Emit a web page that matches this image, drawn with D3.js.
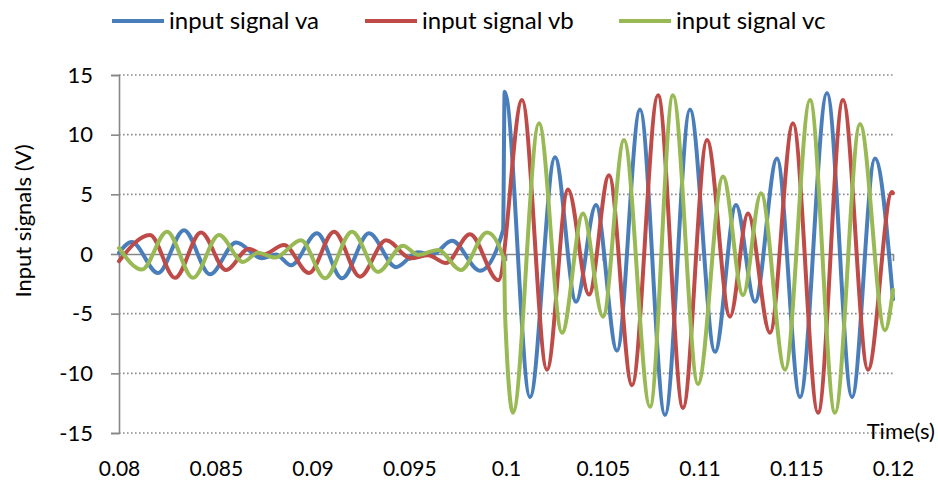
<!DOCTYPE html>
<html>
<head>
<meta charset="utf-8">
<script src="https://cdn.jsdelivr.net/npm/d3@7"></script>
<style>
  html, body { margin: 0; padding: 0; background: #fff; }
  svg { display: block; font-family: Lato, "Open Sans", sans-serif; }
</style>
</head>
<body>
<svg id="chart" width="938" height="487"></svg>
<script>
// Three-phase input signals: turning points (time in s, value in V)
const timeVa = [0.080000, 0.080656, 0.082016, 0.083359, 0.084703, 0.086047, 0.087390, 0.088114, 0.088889,
  0.090233, 0.091525, 0.092920, 0.094315, 0.095452, 0.096176, 0.097209, 0.098656, 0.099850, 0.099930,
  0.101240, 0.102532, 0.103618, 0.104651, 0.105736, 0.106925, 0.108217, 0.109509, 0.110801, 0.111886,
  0.112868, 0.114005, 0.115194, 0.116589, 0.117881, 0.119070, 0.120000];
const va = [0.1, 1.0, -1.6, 2.0, -1.7, 0.96, -0.35, -0.05, -0.95,
  1.73, -2.04, 1.73, -1.1, 0.15, -0.05, 1.1, -1.4, 2.0, 13.6,
  -12.0, 8.1, -4.0, 4.1, -8.1, 12.1, -13.5, 12.1, -8.2, 4.1,
  -4.0, 8.0, -12.0, 13.5, -12.0, 8.0, -3.8];

const timeVb = [0.080000, 0.081602, 0.082894, 0.084238, 0.085530, 0.086718, 0.087440, 0.088527, 0.089819,
  0.091111, 0.092455, 0.093798, 0.095090, 0.095969, 0.096899, 0.098140, 0.099600, 0.100827, 0.102119,
  0.103204, 0.104289, 0.105323, 0.106512, 0.107855, 0.109147, 0.110388, 0.111576, 0.112506, 0.113643,
  0.114832, 0.116124, 0.117416, 0.118708, 0.119948, 0.120000];
const vb = [-0.6, 1.6, -2.0, 1.8, -1.34, 0.45, -0.05, 0.75, -1.6,
  1.87, -1.9, 1.15, -0.36, -0.1, -0.75, 1.65, -2.2, 12.9, -9.7,
  5.4, -3.4, 6.6, -11.0, 13.3, -12.9, 9.55, -5.25, 3.4, -6.6,
  10.95, -13.3, 12.9, -9.7, 5.2, 5.1];

const timeVc = [0.080000, 0.081189, 0.082481, 0.083824, 0.085168, 0.086408, 0.087183, 0.088060, 0.089406,
  0.090646, 0.092041, 0.093385, 0.094677, 0.095452, 0.096486, 0.097674, 0.099018, 0.099900, 0.099950,
  0.100362, 0.101705, 0.102894, 0.103979, 0.105013, 0.106098, 0.107442, 0.108630, 0.109922, 0.111214,
  0.112248, 0.113178, 0.114419, 0.115711, 0.117003, 0.118295, 0.119587, 0.120000];
const vc = [0.5, -1.3, 1.87, -2.0, 1.6, -0.67, 0.1, -0.3, 1.15,
  -2.04, 1.87, -1.5, 0.7, -0.08, 0.34, -1.34, 1.8, -0.5, -5.0,
  -13.3, 10.95, -6.6, 3.4, -5.25, 9.55, -12.8, 13.3, -10.9, 6.5,
  -3.44, 5.1, -9.7, 12.9, -13.3, 10.9, -6.4, -3.0];

const seriesNames = ["input signal va", "input signal vb", "input signal vc"];
const seriesColors = ["#4a7ebb", "#be4b48", "#98b954"];

const xTicks = [0.08, 0.085, 0.09, 0.095, 0.1, 0.105, 0.11, 0.115, 0.12];
const xTickLabels = ["0.08", "0.085", "0.09", "0.095", "0.1", "0.105", "0.11", "0.115", "0.12"];
const yTicks = [-15, -10, -5, 0, 5, 10, 15];
const yTickLabels = ["-15", "-10", "-5", "0", "5", "10", "15"];

const svg = d3.select("#chart");
const plot = { left: 119, right: 893, top: 75, bottom: 433 };

const x = d3.scaleLinear().domain([0.08, 0.12]).range([plot.left, plot.right]);
const y = d3.scaleLinear().domain([-15, 15]).range([plot.bottom, plot.top]);

// dotted horizontal gridlines
svg.append("g")
  .selectAll("line")
  .data(yTicks.filter(v => v !== 0))
  .join("line")
  .attr("x1", plot.left).attr("x2", plot.right)
  .attr("y1", d => y(d)).attr("y2", d => y(d))
  .attr("stroke", "#8c8c8c")
  .attr("stroke-width", 1.6)
  .attr("stroke-dasharray", "1.6,2.4");

// value axis
const yAxis = svg.append("g")
  .attr("transform", `translate(${plot.left},0)`)
  .call(d3.axisLeft(y).tickValues(yTicks)
    .tickFormat((d, i) => yTickLabels[i]).tickSize(8).tickPadding(18));
yAxis.select(".domain").attr("stroke", "#878787").attr("stroke-width", 1.6);
yAxis.selectAll(".tick line").attr("stroke", "#878787").attr("stroke-width", 1.6);
yAxis.selectAll(".tick text")
  .attr("font-family", "Lato, sans-serif").attr("font-size", 22).attr("fill", "#000");

// time axis line at zero
const xAxis = svg.append("g")
  .attr("transform", `translate(0,${y(0)})`)
  .call(d3.axisBottom(x).tickValues(xTicks).tickFormat("").tickSize(7).tickSizeOuter(0));
xAxis.select(".domain").attr("stroke", "#878787").attr("stroke-width", 1.6);
xAxis.selectAll(".tick line").attr("stroke", "#878787").attr("stroke-width", 1.6);

// time tick labels below the plot area
const xLabels = svg.append("g")
  .attr("transform", `translate(0,${plot.bottom})`)
  .call(d3.axisBottom(x).tickValues(xTicks)
    .tickFormat((d, i) => xTickLabels[i]).tickSize(0).tickPadding(28));
xLabels.select(".domain").remove();
xLabels.selectAll(".tick text")
  .attr("font-family", "Lato, sans-serif").attr("font-size", 21).attr("fill", "#000");

// axis titles
svg.append("text")
  .attr("x", 935).attr("y", 439)
  .attr("text-anchor", "end")
  .attr("font-size", 22)
  .text("Time(s)");

svg.append("text")
  .attr("transform", "translate(31,221) rotate(-90)")
  .attr("text-anchor", "middle")
  .attr("font-size", 22)
  .text("Input signals (V)");

// signal traces
const series = [
  { t: timeVa, v: va },
  { t: timeVb, v: vb },
  { t: timeVc, v: vc }
];
const line = d3.line()
  .x(d => x(d[0]))
  .y(d => y(d[1]))
  .curve(d3.curveMonotoneX);

svg.append("g")
  .selectAll("path")
  .data(series)
  .join("path")
  .attr("d", s => line(s.t.map((t, i) => [t, s.v[i]])))
  .attr("fill", "none")
  .attr("stroke", (s, i) => seriesColors[i])
  .attr("stroke-width", 4)
  .attr("stroke-linejoin", "round")
  .attr("stroke-linecap", "round");

// legend
const legendX = [112, 365, 619];
const legend = svg.append("g")
  .selectAll("g")
  .data(seriesNames)
  .join("g")
  .attr("transform", (d, i) => `translate(${legendX[i]},21)`);
legend.append("line")
  .attr("x1", 0).attr("x2", 52)
  .attr("stroke", (d, i) => seriesColors[i])
  .attr("stroke-width", 4);
legend.append("text")
  .attr("x", 57).attr("y", 8)
  .attr("font-size", 24)
  .text(d => d);
</script>
</body>
</html>
